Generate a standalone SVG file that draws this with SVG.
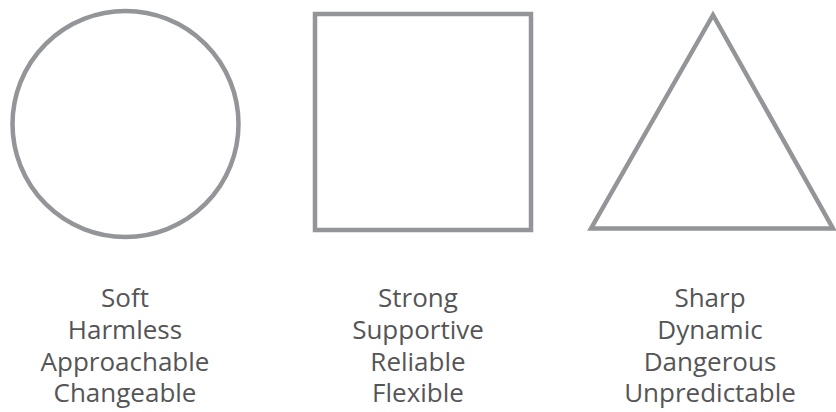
<svg xmlns="http://www.w3.org/2000/svg" width="836" height="412" viewBox="0 0 836 412">
<style>
.shape{fill:none;stroke:#939598;stroke-width:4.5}
.lbl{font-family:"Open Sans",Lato,sans-serif;font-size:26px;fill:#555557;text-anchor:middle}
</style>
<rect width="836" height="412" fill="#ffffff"/>
<g id="circle-node">
<circle class="shape" cx="125.5" cy="124" r="113"/>
<text class="lbl" x="125" y="307">Soft</text>
<text class="lbl" x="125" y="339">Harmless</text>
<text class="lbl" x="125" y="371">Approachable</text>
<text class="lbl" x="125" y="402">Changeable</text>
</g>
<g id="square-node">
<rect class="shape" x="315" y="14" width="216" height="216"/>
<text class="lbl" x="418" y="307">Strong</text>
<text class="lbl" x="418" y="339">Supportive</text>
<text class="lbl" x="418" y="371">Reliable</text>
<text class="lbl" x="418" y="402">Flexible</text>
</g>
<g id="triangle-node">
<polygon class="shape" points="713,15 591,228.5 833,228.5"/>
<text class="lbl" x="710" y="307">Sharp</text>
<text class="lbl" x="710" y="339">Dynamic</text>
<text class="lbl" x="710" y="371">Dangerous</text>
<text class="lbl" x="710" y="402">Unpredictable</text>
</g>
<g id="connectors"/>
</svg>
